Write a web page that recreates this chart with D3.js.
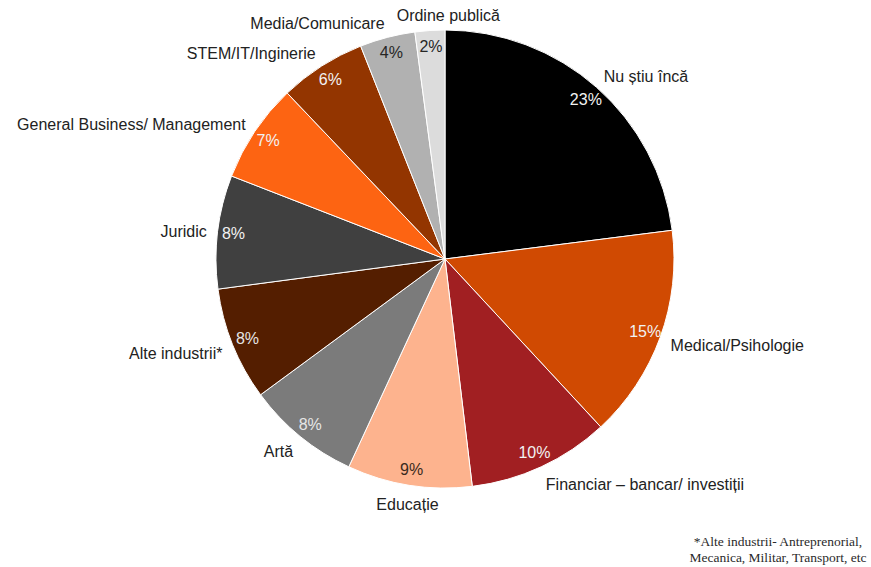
<!DOCTYPE html>
<meta charset="utf-8">
<head>
  <title>Domenii</title>
</head>
<style>
body { margin: 0; background: #fff; }
.slice { stroke: #fff; stroke-width: 1px; }
.lbl { font-family: "Liberation Sans", Arial, sans-serif; font-size: 16px; fill: #222; }
.pct { font-family: "Liberation Sans", Arial, sans-serif; font-size: 16px; text-anchor: middle; }
.note { font-family: "Liberation Serif", "Times New Roman", serif; font-size: 13.5px; fill: #2a2a2a; text-anchor: middle; }
</style>
<body>

<script src="https://d3js.org/d3.v7.min.js"></script>
<script>

// categories, shares (%), slice colours
var categories = ["Nu știu încă", "Medical/Psihologie", "Financiar – bancar/ investiții", "Educație",
                  "Artă", "Alte industrii*", "Juridic", "General Business/ Management",
                  "STEM/IT/Inginerie", "Media/Comunicare", "Ordine publică"];
var shares = [23.0, 15.1, 10.0, 8.8, 8.0, 8.0, 8.0, 7.0, 6.1, 3.9, 2.1];
var colors = ["#000000", "#d04a02", "#a11f22", "#fdb38e", "#7b7b7b", "#541e00",
              "#404040", "#fd6412", "#933500", "#b1b1b1", "#dcdcdc"];
var pctColors = ["#f2f2f2", "#f2f2f2", "#f2f2f2", "#3a2a20", "#e6e6e6", "#e6e6e6",
                 "#f2f2f2", "#f2f2f2", "#f2f2f2", "#262626", "#262626"];
var footnote = ["*Alte industrii- Antreprenorial,", "Mecanica, Militar, Transport, etc"];

var width = 871, height = 567;
var cx = 445, cy = 259, radius = 229;

var svg = d3.select("body").append("svg")
    .attr("width", width)
    .attr("height", height);

var g = svg.append("g")
    .attr("transform", "translate(" + cx + "," + cy + ")");

var data = categories.map(function(c, i) { return {name: c, value: shares[i], i: i}; });

var pie = d3.pie().sort(null).value(function(d) { return d.value; });
var arcs = pie(data);

var arc = d3.arc().innerRadius(0).outerRadius(radius);
var pctArc = d3.arc().innerRadius(213).outerRadius(213);
var lblR = 240;

// slices
g.selectAll("path.slice")
    .data(arcs)
  .enter().append("path")
    .attr("class", "slice")
    .attr("fill", function(d) { return colors[d.data.i]; })
    .attr("d", arc);

// percent labels inside
g.selectAll("text.pct")
    .data(arcs)
  .enter().append("text")
    .attr("class", "pct")
    .attr("transform", function(d) { return "translate(" + pctArc.centroid(d) + ")"; })
    .attr("dy", "0.35em")
    .attr("fill", function(d) { return pctColors[d.data.i]; })
    .text(function(d) { return Math.round(d.data.value) + "%"; });

// category labels outside (box edge sits on the label circle)
var labels = g.selectAll("text.lbl")
    .data(arcs)
  .enter().append("text")
    .attr("class", "lbl")
    .attr("dy", "0.35em")
    .each(function(d) {
      var a = (d.startAngle + d.endAngle) / 2;
      var s = Math.sin(a), c = Math.cos(a);
      d.lx = lblR * s;
      d.ly = -lblR * c + 2 - 6 * c;
      d.anchor = Math.abs(s) < 0.2 ? "middle" : (s > 0 ? "start" : "end");
    })
    .attr("x", function(d) { return d.lx; })
    .attr("y", function(d) { return d.ly; })
    .attr("text-anchor", function(d) { return d.anchor; })
    .text(function(d) { return d.data.name; });

// push centred labels sideways if they run into a neighbour
var nodes = labels.nodes();
nodes.forEach(function(n, k) {
  var d = d3.select(n).datum();
  if (d.anchor !== "middle") return;
  var b = n.getBBox();
  [k - 1, k + 1].forEach(function(j) {
    var m = nodes[(j + nodes.length) % nodes.length];
    var o = m.getBBox();
    var vert = b.y < o.y + o.height && o.y < b.y + b.height;
    if (!vert) return;
    if (o.x + o.width > b.x && o.x < b.x) {
      d.lx += o.x + o.width - b.x + 12;
    } else if (o.x < b.x + b.width && o.x + o.width > b.x + b.width) {
      d.lx -= b.x + b.width - o.x + 12;
    }
    d3.select(n).attr("x", d.lx);
    b = n.getBBox();
  });
});

// footnote
svg.selectAll("text.note")
    .data(footnote)
  .enter().append("text")
    .attr("class", "note")
    .attr("x", 778)
    .attr("y", function(d, i) { return 546 + i * 16; })
    .text(function(d) { return d; });

</script>
</body>
